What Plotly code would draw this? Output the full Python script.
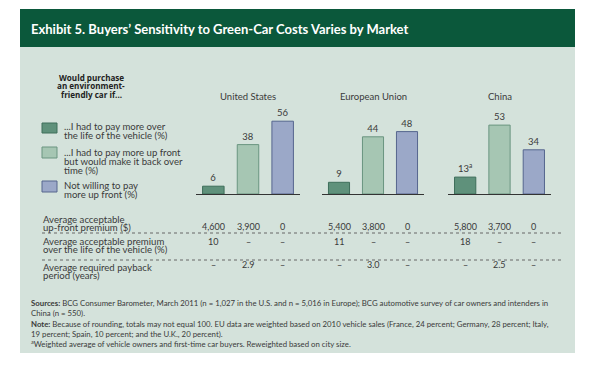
import plotly.graph_objects as go

W, H = 600, 369

# ---------------- data ----------------
markets = ["United States", "European Union", "China"]
series_names = [
    ["...I had to pay more over", "the life of the vehicle (%)"],
    ["...I had to pay more up front", "but would make it back over", "time (%)"],
    ["Not willing to pay", "more up front (%)"],
]
pay_more_life = [6, 9, 13]
pay_more_upfront = [38, 44, 53]
not_willing = [56, 48, 34]
bar_labels_suffix = ["", "", "<sup>a</sup>"]  # footnote mark on China first bar

upfront_premium = [[4600, 3900, 0], [5400, 3800, 0], [5800, 3700, 0]]
life_premium = [[10, None, None], [11, None, None], [18, None, None]]
payback_years = [[None, 2.9, None], [None, 3.0, None], [None, 2.5, None]]
row_labels = [
    ["Average acceptable", "up-front premium ($)"],
    ["Average acceptable premium", "over the life of the vehicle (%)"],
    ["Average required payback", "period (years)"],
]

title = "Exhibit 5. Buyers’ Sensitivity to Green-Car Costs Varies by Market"
legend_title = ["Would purchase", "an environment-", "friendly car if..."]
footer_lines = [
    "<b>Sources:</b> BCG Consumer Barometer, March 2011 (n = 1,027 in the U.S. and n = 5,016 in Europe); "
    "BCG automotive survey of car owners and intenders in",
    "China (n = 550).",
    "<b>Note:</b> Because of rounding, totals may not equal 100. EU data are weighted based on 2010 vehicle sales "
    "(France, 24 percent; Germany, 28 percent; Italy,",
    "19 percent; Spain, 10 percent; and the U.K., 20 percent).",
    "<sup>a</sup>Weighted average of vehicle owners and first-time car buyers. Reweighted based on city size.",
]

# ---------------- style ----------------
FONT = "Lato"
TXT = "#3a3a3a"
HEADER = "#0b583b"
PANEL = "#d4e2db"
fills = ["#5f917b", "#a6c6b3", "#9ba8c8"]
edges = ["#3e6e5b", "#6a9580", "#56668e"]

def px_x(p):
    return p / W

def px_y(p):
    return 1 - p / H

def label(x, y, text, size, color=TXT, xanchor="left", bold=False, family=FONT):
    fig.add_annotation(x=px_x(x), y=px_y(y), xref="paper", yref="paper",
                       text=f"<b>{text}</b>" if bold else text, showarrow=False,
                       xanchor=xanchor, yanchor="middle", borderpad=0,
                       align=xanchor if xanchor != "center" else "center",
                       font=dict(family=family, size=size, color=color))

fig = go.Figure()

cats = ["a", "b", "c"]
domains_px = [(196, 300), (322, 424), (448, 551)]
base_px, top_px = 194, 100
unit = 1.3
yr = (base_px - top_px) / unit

series = [pay_more_life, pay_more_upfront, not_willing]
for g in range(3):
    xa = "x" if g == 0 else f"x{g+1}"
    ya = "y" if g == 0 else f"y{g+1}"
    for s in range(3):
        v = series[s][g]
        txt = f"{v}{bar_labels_suffix[g]}" if s == 0 else f"{v}"
        fig.add_trace(go.Bar(
            x=[cats[s]], y=[v], xaxis=xa, yaxis=ya, width=0.62,
            marker=dict(color=fills[s], line=dict(color=edges[s], width=1)),
            text=[txt], textposition="outside", cliponaxis=False,
            textfont=dict(family=FONT, size=9.5, color=TXT),
            showlegend=False, hoverinfo="skip",
        ))
    axk = "xaxis" if g == 0 else f"xaxis{g+1}"
    ayk = "yaxis" if g == 0 else f"yaxis{g+1}"
    d0, d1 = domains_px[g]
    fig.layout[axk] = dict(
        domain=[px_x(d0), px_x(d1)], range=[-0.5, 2.5], anchor=ya,
        type="category", categoryorder="array", categoryarray=cats,
        showticklabels=False, ticks="", showgrid=False, zeroline=False,
        showline=True, linecolor="#333333", linewidth=1, fixedrange=True,
    )
    fig.layout[ayk] = dict(
        domain=[px_y(base_px), px_y(top_px)], range=[0, yr], anchor=xa,
        visible=False, showgrid=False, fixedrange=True,
    )
    # group title
    fig.add_annotation(x=1, xref=xa, y=px_y(89), yref="paper", text=markets[g],
                       showarrow=False, font=dict(family=FONT, size=9.5, color=TXT))
    # table values
    rows = [upfront_premium[g], life_premium[g], payback_years[g]]
    row_y = [226.5, 248.5, 271.5]
    for r, vals in enumerate(rows):
        for s, v in enumerate(vals):
            if v is None:
                t = "–"
            elif r == 0:
                t = f"{v:,}"
            elif r == 2:
                t = f"{v:.1f}"
            else:
                t = f"{v}"
            fig.add_annotation(x=s, xref=xa, y=px_y(row_y[r]), yref="paper", text=t,
                               showarrow=False, font=dict(family=FONT, size=9, color=TXT))

shapes = []
# header and panel
shapes.append(dict(type="rect", xref="paper", yref="paper", x0=px_x(20), x1=px_x(575),
                   y0=px_y(47), y1=px_y(9), fillcolor=HEADER, line=dict(width=0), layer="below"))
shapes.append(dict(type="rect", xref="paper", yref="paper", x0=px_x(20), x1=px_x(575),
                   y0=px_y(353), y1=px_y(47), fillcolor=PANEL, line=dict(width=0), layer="below"))
# dotted separators
for yy in (233, 260):
    shapes.append(dict(type="line", xref="paper", yref="paper", x0=px_x(42), x1=px_x(563),
                       y0=px_y(yy), y1=px_y(yy), line=dict(color="#666666", width=1, dash="dot")))
# legend swatches
leg_sw = [(123, 133), (147, 158), (181, 192)]
leg_line_y = [[126.5, 135.5], [152, 161.3, 170.6], [185.5, 194.5]]
for s in range(3):
    y0, y1 = leg_sw[s]
    shapes.append(dict(type="rect", xref="paper", yref="paper", x0=px_x(42), x1=px_x(57),
                       y0=px_y(y1), y1=px_y(y0), fillcolor=fills[s],
                       line=dict(color=edges[s], width=1)))
    for ln, yy in zip(series_names[s], leg_line_y[s]):
        label(63, yy, ln, 9.6)
fig.update_layout(shapes=shapes)

for ln, yy in zip(legend_title, [77, 85.5, 94]):
    label(91, yy, ln, 8.1, color="#222222", xanchor="center", bold=True, family="Open Sans")

# header title
label(30, 29, title, 13, color="white", bold=True)

# row labels
row_label_y = [[219, 227.3], [241, 249.3], [267, 275.3]]
for r in range(3):
    for ln, yy in zip(row_labels[r], row_label_y[r]):
        label(42, yy, ln, 9.6)

# footer
for ln, yy in zip(footer_lines, [303, 313, 324, 334, 344]):
    label(30, yy, ln, 7.8)

fig.update_layout(
    width=W, height=H, margin=dict(l=0, r=0, t=0, b=0),
    paper_bgcolor="white", plot_bgcolor="rgba(0,0,0,0)",
    barmode="overlay", showlegend=False,
)

fig.write_html("out.html", config={"displayModeBar": False},
               post_script="document.body.style.margin='0';")
